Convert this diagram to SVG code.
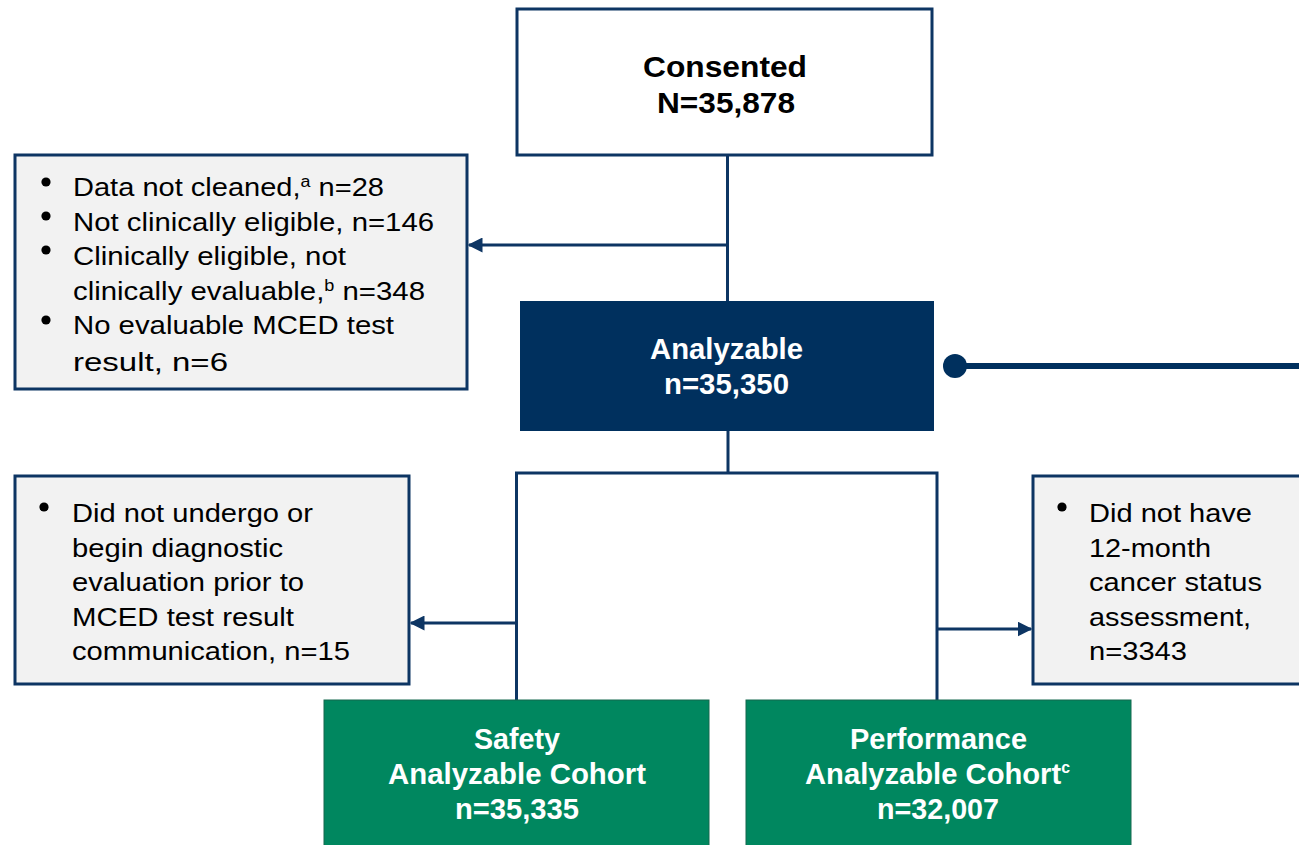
<svg xmlns="http://www.w3.org/2000/svg" width="1299" height="845" viewBox="0 0 1299 845">
  <defs>
    <style>
      .box-white { fill: #ffffff; stroke: #0d3563; stroke-width: 3; }
      .box-grey { fill: #f2f2f2; stroke: #0d3563; stroke-width: 3; }
      .box-navy { fill: #00305e; }
      .box-green { fill: #00875f; stroke: #15694f; stroke-width: 1; }
      .conn { fill: none; stroke: #0d3563; stroke-width: 3; }
      .body { font-family: "Liberation Sans", Arial, sans-serif; font-size: 26px; fill: #000000; }
      .title { font-family: "Liberation Sans", Arial, sans-serif; font-size: 29.5px; font-weight: bold; text-anchor: middle; }
      .dark { fill: #000000; }
      .light { fill: #ffffff; }
      .sup { font-size: 16px; }
      .bullet { fill: #000000; }
    </style>
    <marker id="arrow" viewBox="0 0 10 10" refX="9" refY="5" markerWidth="5" markerHeight="5" orient="auto" markerUnits="strokeWidth">
      <path d="M0,0 L10,5 L0,10 Z" fill="#0d3563"/>
    </marker>
  </defs>

  <!-- connectors -->
  <g id="connectors">
    <line class="conn" x1="727.5" y1="155" x2="727.5" y2="301"/>
    <line class="conn" x1="727.5" y1="245" x2="469" y2="245" marker-end="url(#arrow)"/>
    <line class="conn" x1="728" y1="430" x2="728" y2="473"/>
    <polyline class="conn" points="516.5,700 516.5,473 937,473 937,700"/>
    <line class="conn" x1="516.5" y1="623" x2="411" y2="623" marker-end="url(#arrow)"/>
    <line class="conn" x1="937" y1="629" x2="1031" y2="629" marker-end="url(#arrow)"/>
    <line x1="955" y1="366" x2="1299" y2="366" stroke="#00305e" stroke-width="6"/>
    <circle cx="955" cy="366" r="12" fill="#00305e"/>
  </g>

  <!-- Consented -->
  <g id="consented">
    <rect class="box-white" x="517" y="9" width="415" height="146"/>
    <text class="title dark" x="725" y="77" textLength="164" lengthAdjust="spacingAndGlyphs">Consented</text>
    <text class="title dark" x="726" y="113" textLength="138" lengthAdjust="spacingAndGlyphs">N=35,878</text>
  </g>

  <!-- first exclusions -->
  <g id="excluded-1">
    <rect class="box-grey" x="15" y="155" width="452" height="234"/>
    <circle class="bullet" cx="46" cy="182" r="4.6"/>
    <circle class="bullet" cx="46" cy="216" r="4.6"/>
    <circle class="bullet" cx="46" cy="250" r="4.6"/>
    <circle class="bullet" cx="46" cy="320" r="4.6"/>
    <text class="body" x="73" y="196" textLength="311" lengthAdjust="spacingAndGlyphs">Data not cleaned,<tspan class="sup" dy="-9">a</tspan><tspan dy="9"> n=28</tspan></text>
    <text class="body" x="73" y="231" textLength="361" lengthAdjust="spacingAndGlyphs">Not clinically eligible, n=146</text>
    <text class="body" x="73" y="265" textLength="273" lengthAdjust="spacingAndGlyphs">Clinically eligible, not</text>
    <text class="body" x="73" y="300" textLength="352" lengthAdjust="spacingAndGlyphs">clinically evaluable,<tspan class="sup" dy="-9">b</tspan><tspan dy="9"> n=348</tspan></text>
    <text class="body" x="73" y="334" textLength="321" lengthAdjust="spacingAndGlyphs">No evaluable MCED test</text>
    <text class="body" x="73" y="371" textLength="155" lengthAdjust="spacingAndGlyphs">result, n=6</text>
  </g>

  <!-- Analyzable -->
  <g id="analyzable">
    <rect class="box-navy" x="520" y="301" width="414" height="130"/>
    <text class="title light" x="726.5" y="359" textLength="153" lengthAdjust="spacingAndGlyphs">Analyzable</text>
    <text class="title light" x="726.5" y="394" textLength="125" lengthAdjust="spacingAndGlyphs">n=35,350</text>
  </g>

  <!-- second exclusions (safety branch) -->
  <g id="excluded-2">
    <rect class="box-grey" x="15" y="476" width="394" height="208"/>
    <circle class="bullet" cx="44" cy="507" r="4.6"/>
    <text class="body" x="72" y="522" textLength="241" lengthAdjust="spacingAndGlyphs">Did not undergo or</text>
    <text class="body" x="72" y="556.5" textLength="211" lengthAdjust="spacingAndGlyphs">begin diagnostic</text>
    <text class="body" x="72" y="591" textLength="232" lengthAdjust="spacingAndGlyphs">evaluation prior to</text>
    <text class="body" x="72" y="625.5" textLength="222" lengthAdjust="spacingAndGlyphs">MCED test result</text>
    <text class="body" x="72" y="660" textLength="278" lengthAdjust="spacingAndGlyphs">communication, n=15</text>
  </g>

  <!-- third exclusions (performance branch) -->
  <g id="excluded-3">
    <rect class="box-grey" x="1033" y="476" width="280" height="208"/>
    <circle class="bullet" cx="1062" cy="507" r="4.6"/>
    <text class="body" x="1089" y="522" textLength="163" lengthAdjust="spacingAndGlyphs">Did not have</text>
    <text class="body" x="1089" y="556.5" textLength="122" lengthAdjust="spacingAndGlyphs">12-month</text>
    <text class="body" x="1089" y="591" textLength="173" lengthAdjust="spacingAndGlyphs">cancer status</text>
    <text class="body" x="1089" y="625.5" textLength="162" lengthAdjust="spacingAndGlyphs">assessment,</text>
    <text class="body" x="1089" y="660" textLength="98" lengthAdjust="spacingAndGlyphs">n=3343</text>
  </g>

  <!-- Safety cohort -->
  <g id="safety">
    <rect class="box-green" x="324" y="700" width="385" height="160"/>
    <text class="title light" x="517" y="749" textLength="86" lengthAdjust="spacingAndGlyphs">Safety</text>
    <text class="title light" x="517" y="784" textLength="258" lengthAdjust="spacingAndGlyphs">Analyzable Cohort</text>
    <text class="title light" x="517" y="819" textLength="124" lengthAdjust="spacingAndGlyphs">n=35,335</text>
  </g>

  <!-- Performance cohort -->
  <g id="performance">
    <rect class="box-green" x="746" y="700" width="385" height="160"/>
    <text class="title light" x="938.5" y="749" textLength="177" lengthAdjust="spacingAndGlyphs">Performance</text>
    <text class="title light" x="937.5" y="784" textLength="265" lengthAdjust="spacingAndGlyphs">Analyzable Cohort<tspan class="sup" dy="-11">c</tspan></text>
    <text class="title light" x="938" y="819" textLength="122" lengthAdjust="spacingAndGlyphs">n=32,007</text>
  </g>
</svg>
